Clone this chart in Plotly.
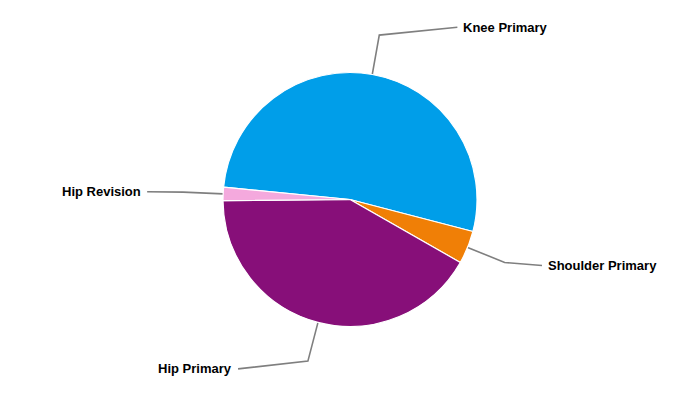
import math
import plotly.graph_objects as go

# ---- data ----
labels = ["Knee Primary", "Shoulder Primary", "Hip Primary", "Hip Revision"]
values = [52.5, 4.2, 41.6, 1.7]
colors = ["#009EE9", "#F07F06", "#870F79", "#F4A9DD"]

# ---- geometry / style ----
W, H = 700, 400
START_ANGLE = 275.6          # first slice starts here (deg, clockwise from 12 o'clock)
CX, CY, R = 350.0, 199.5, 127.0
BREAK_R = R + 40             # connector elbow radius
LABEL_RY = 175               # vertical label radius
LABEL_RX = 203               # horizontal label radius
CONNECTOR_COLOR = "#7F7F7F"


def to_paper(px, py):
    return px / W, 1 - py / H


fig = go.Figure()
fig.add_trace(go.Pie(
    labels=labels,
    values=values,
    sort=False,
    direction="clockwise",
    rotation=START_ANGLE - 360,
    textinfo="none",
    marker=dict(colors=colors, line=dict(color="#FFFFFF", width=1.2)),
    domain=dict(x=[(CX - R) / W, (CX + R) / W], y=[1 - (CY + R) / H, 1 - (CY - R) / H]),
    showlegend=False,
))

total = sum(values)
cum = 0.0
shapes = []
annotations = []
for lab, v in zip(labels, values):
    mid = math.radians(START_ANGLE + (cum + v / 2) / total * 360)
    cum += v
    s, c = math.sin(mid), math.cos(mid)
    ex, ey = CX + R * s, CY - R * c
    bx, by = CX + BREAK_R * s, CY - BREAK_R * c
    ly = CY - LABEL_RY * c
    dy = ly - CY
    right = s > 0
    lx = CX + (1 if right else -1) * math.sqrt(max(LABEL_RX ** 2 - dy ** 2, 0))
    lx = max(lx, bx + 15) if right else min(lx, bx - 15)
    p = [to_paper(ex, ey), to_paper(bx, by), to_paper(lx, ly)]
    path = "M {:.5f},{:.5f} L {:.5f},{:.5f} L {:.5f},{:.5f}".format(
        p[0][0], p[0][1], p[1][0], p[1][1], p[2][0], p[2][1])
    shapes.append(dict(type="path", xref="paper", yref="paper", path=path,
                       line=dict(color=CONNECTOR_COLOR, width=1.6), layer="below"))
    tx, ty = to_paper(lx + (4 if right else -4), ly)
    annotations.append(dict(
        x=tx, y=ty, xref="paper", yref="paper", text="<b>%s</b>" % lab,
        showarrow=False, xanchor="left" if right else "right", yanchor="middle",
        font=dict(family="Liberation Sans, Arial, sans-serif", size=13, color="#000000"),
    ))

fig.update_layout(
    width=W, height=H,
    margin=dict(l=0, r=0, t=0, b=0),
    paper_bgcolor="#FFFFFF",
    plot_bgcolor="#FFFFFF",
    shapes=shapes,
    annotations=annotations,
)

fig.write_html("out.html", config={"displayModeBar": False},
               post_script="document.body.style.margin='0';")
